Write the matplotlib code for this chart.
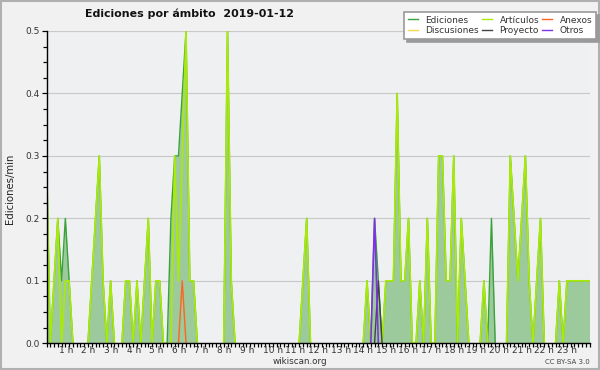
import numpy as np
import matplotlib
matplotlib.use("Agg")
import matplotlib.pyplot as plt
from matplotlib import transforms
from matplotlib.lines import Line2D
from matplotlib.patches import Rectangle

# ---------------- data (10-minute buckets, edits per minute) ----------------
title = "Ediciones por ámbito  2019-01-12"
ylabel = "Ediciones/min"
footer_left = "wikiscan.org"
footer_right = "CC BY-SA 3.0"
step_minutes = 10
hours = list(range(1, 24))
hour_labels = [f"{h} h" for h in hours]
y_ticks = [0.0, 0.1, 0.2, 0.3, 0.4, 0.5]
y_tick_labels = ["0.0", "0.1", "0.2", "0.3", "0.4", "0.5"]

ediciones = [
    0.3, 0.0, 0.1, 0.2, 0.1, 0.2,   0.1, 0.0, 0.0, 0.0, 0.0, 0.0,   # 0h-1h
    0.1, 0.2, 0.3, 0.1, 0.0, 0.1,   0.0, 0.0, 0.0, 0.1, 0.1, 0.0,   # 2h-3h
    0.1, 0.0, 0.1, 0.2, 0.0, 0.1,   0.1, 0.0, 0.0, 0.2, 0.3, 0.3,   # 4h-5h
    0.4, 0.5, 0.1, 0.1, 0.0, 0.0,   0.0, 0.0, 0.0, 0.0, 0.0, 0.0,   # 6h-7h
    0.5, 0.1, 0.0, 0.0, 0.0, 0.0,   0.0, 0.0, 0.0, 0.0, 0.0, 0.0,   # 8h-9h
    0.0, 0.0, 0.0, 0.0, 0.0, 0.0,   0.0, 0.0, 0.1, 0.2, 0.0, 0.0,   # 10h-11h
    0.0, 0.0, 0.0, 0.0, 0.0, 0.0,   0.0, 0.0, 0.0, 0.0, 0.0, 0.0,   # 12h-13h
    0.0, 0.1, 0.0, 0.2, 0.1, 0.0,   0.1, 0.1, 0.1, 0.4, 0.1, 0.1,   # 14h-15h
    0.2, 0.0, 0.0, 0.1, 0.0, 0.2,   0.0, 0.0, 0.3, 0.3, 0.1, 0.1,   # 16h-17h
    0.3, 0.0, 0.2, 0.1, 0.0, 0.0,   0.0, 0.0, 0.1, 0.0, 0.2, 0.0,   # 18h-19h
    0.0, 0.0, 0.0, 0.3, 0.2, 0.1,   0.2, 0.3, 0.1, 0.0, 0.1, 0.2,   # 20h-21h
    0.0, 0.0, 0.0, 0.0, 0.1, 0.0,   0.1, 0.1, 0.1, 0.1, 0.1, 0.1,   # 22h-23h
    0.1,                                                            # 24h
]
articulos = [
    0.3, 0.0, 0.1, 0.2, 0.0, 0.1,   0.1, 0.0, 0.0, 0.0, 0.0, 0.0,
    0.1, 0.2, 0.3, 0.1, 0.0, 0.1,   0.0, 0.0, 0.0, 0.1, 0.1, 0.0,
    0.1, 0.0, 0.1, 0.2, 0.0, 0.1,   0.1, 0.0, 0.0, 0.0, 0.3, 0.1,
    0.3, 0.5, 0.1, 0.1, 0.0, 0.0,   0.0, 0.0, 0.0, 0.0, 0.0, 0.0,
    0.5, 0.1, 0.0, 0.0, 0.0, 0.0,   0.0, 0.0, 0.0, 0.0, 0.0, 0.0,
    0.0, 0.0, 0.0, 0.0, 0.0, 0.0,   0.0, 0.0, 0.1, 0.2, 0.0, 0.0,
    0.0, 0.0, 0.0, 0.0, 0.0, 0.0,   0.0, 0.0, 0.0, 0.0, 0.0, 0.0,
    0.0, 0.1, 0.0, 0.0, 0.0, 0.0,   0.1, 0.1, 0.1, 0.4, 0.1, 0.1,
    0.2, 0.0, 0.0, 0.1, 0.0, 0.2,   0.0, 0.0, 0.3, 0.3, 0.1, 0.1,
    0.3, 0.0, 0.2, 0.1, 0.0, 0.0,   0.0, 0.0, 0.1, 0.0, 0.0, 0.0,
    0.0, 0.0, 0.0, 0.3, 0.2, 0.1,   0.2, 0.3, 0.1, 0.0, 0.1, 0.2,
    0.0, 0.0, 0.0, 0.0, 0.1, 0.0,   0.1, 0.1, 0.1, 0.1, 0.1, 0.1,
    0.1,
]
n = len(ediciones)
anexos = [0.0] * n
anexos[36] = 0.1
discusiones = [0.0] * n
proyecto = [0.0] * n
proyecto[88] = 0.1
otros = [0.0] * n
otros[87] = 0.2

# ---------------- styling ----------------
col_fill = "#9dca9d"
col_ed = "#3aa23a"
col_art = "#aaea08"
col_anx = "#ff6420"
col_dis = "#ffd84a"
col_pro = "#444444"
col_otr = "#8030e8"

W, H = 600, 370
PT = 72.0 / 100.0  # points per pixel at 100 dpi
fig = plt.figure(figsize=(W / 100, H / 100), dpi=100, facecolor="#f1f1f1")
ax = fig.add_axes([46.5 / W, (H - 343.3) / H, 543.0 / W, 312.3 / H])
ax.set_facecolor("#eef0f2")

t = np.arange(n) * step_minutes / 60.0


def hide_flat_zeros(v):
    v = np.asarray(v, dtype=float)
    z = v == 0
    left = np.r_[True, z[:-1]]
    right = np.r_[z[1:], True]
    return np.ma.masked_where(z & left & right, v)


ax.fill_between(t, ediciones, 0, color=col_fill, lw=0, zorder=2)
ax.plot(t, hide_flat_zeros(ediciones), color=col_ed, lw=1.4 * PT, zorder=3)
ax.plot(t, hide_flat_zeros(articulos), color=col_art, lw=1.7 * PT, zorder=4)
ax.plot(t, hide_flat_zeros(discusiones), color=col_dis, lw=1.4 * PT, zorder=5)
ax.plot(t, hide_flat_zeros(anexos), color=col_anx, lw=1.4 * PT, zorder=5)
ax.plot(t, hide_flat_zeros(proyecto), color=col_pro, lw=1.4 * PT, zorder=6)
ax.plot(t, hide_flat_zeros(otros), color=col_otr, lw=1.6 * PT, zorder=6)

ax.set_xlim(0, 24)
ax.set_ylim(0, 0.5)

# grid
for y in y_ticks[1:]:
    ax.axhline(y, color="#c9c9c9", lw=1.2 * PT, zorder=1)

for s in ["top", "right"]:
    ax.spines[s].set_visible(False)
for s in ["left", "bottom"]:
    ax.spines[s].set_color("black")
    ax.spines[s].set_linewidth(1.4 * PT)
    ax.spines[s].set_zorder(10)

ax.set_yticks(y_ticks)
ax.set_yticklabels(y_tick_labels, fontsize=6.5, color="#333333")
ax.set_yticks(np.arange(0, 0.5001, 0.025), minor=True)
ax.tick_params(axis="y", which="major", length=5 * PT, width=1.2 * PT, pad=1)
ax.tick_params(axis="y", which="minor", length=4 * PT, width=1.2 * PT)

ax.set_xticks(np.arange(0, 24.001, 1))
ax.set_xticklabels([])
ax.set_xticks(np.arange(0, 24.001, step_minutes / 60.0), minor=True)
ax.tick_params(axis="x", which="both", length=4 * PT, width=1.2 * PT, direction="out")

# hour labels
base = transforms.blended_transform_factory(ax.transData, fig.transFigure)
for h, lab in zip(hours, hour_labels):
    dx = -3.3 if h < 10 else 0.0
    tr = transforms.offset_copy(base, fig=fig, x=dx, y=0, units="dots")
    ax.text(h, 1 - 346.0 / H, lab, transform=tr, ha="center", va="top",
            fontsize=6.5, color="#333333", clip_on=False)

# texts
fig.text(85 / W, 1 - 14 / H, title, fontsize=7.9, fontweight="bold",
         ha="left", va="center", color="#111111")
fig.text(10 / W, 1 - 189 / H, ylabel, rotation=90, fontsize=7.3,
         ha="center", va="center", color="#222222")
fig.text(300 / W, 1 - 362 / H, footer_left, fontsize=6.3, ha="center",
         va="center", color="#333333")
fig.text(590 / W, 1 - 362 / H, footer_right, fontsize=5, ha="right",
         va="center", color="#444444")

# legend
handles = [
    Line2D([], [], color=col_ed, lw=1),
    Line2D([], [], color=col_dis, lw=1),
    Line2D([], [], color=col_art, lw=1),
    Line2D([], [], color=col_pro, lw=1),
    Line2D([], [], color=col_anx, lw=1),
    Line2D([], [], color=col_otr, lw=1),
]
labels = ["Ediciones", "Discusiones", "Artículos", "Proyecto", "Anexos", "Otros"]
leg = fig.legend(handles, labels, ncol=3, loc="upper left",
                 bbox_to_anchor=(404 / W, 1 - 12 / H), fontsize=6.5,
                 frameon=True, fancybox=False,
                 shadow={"color": "#9a9a9a", "alpha": 1},
                 handlelength=1.1, handletextpad=0.85, columnspacing=0.35,
                 borderpad=0.4, labelspacing=0.2, borderaxespad=0)
leg.get_frame().set_facecolor("white")
leg.get_frame().set_edgecolor("#9a9a9a")
leg.get_frame().set_linewidth(1.2)
for txt in leg.get_texts():
    txt.set_color("#333333")

# outer border
fig.patches.append(Rectangle((0.001, 0.002), 0.997, 0.996, transform=fig.transFigure,
                             fill=False, edgecolor="#b0b0b0", lw=1.5))

fig.savefig("out.png", dpi=100, facecolor=fig.get_facecolor())
